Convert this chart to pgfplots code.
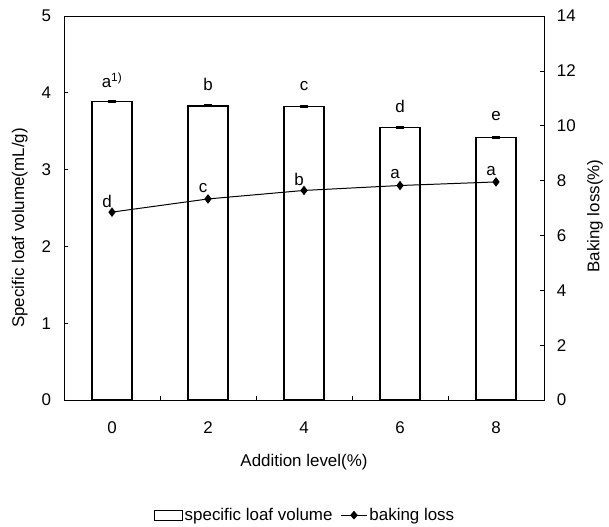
\documentclass[border=0pt]{standalone}
\usepackage{fontspec}
\setmainfont{Liberation Sans}
\usepackage{pgfplots}
\pgfplotsset{compat=1.18}
\usepackage{pgfplotstable}
\newcommand\aone{a\textsuperscript{1)}}
\pgfplotstableread{
x y err lab
0 3.89 0.01 \aone
1 3.83 0.01 b
2 3.82 0.01 c
3 3.55 0.01 d
4 3.42 0.01 e
}\barsdata
\pgfplotstableread{
x y lab
0 6.85 d
1 7.33 c
2 7.64 b
3 7.82 a
4 7.95 a
}\lossdata
\begin{document}
\fontsize{17}{20}\selectfont
\begin{tikzpicture}
\begin{axis}[
  name=ax,
  width=480bp, height=384bp, scale only axis,
  xmin=-0.5, xmax=4.5, ymin=0, ymax=5,
  xtick={0,1,2,3,4}, xticklabels={0,2,4,6,8},
  minor xtick={0.5,1.5,2.5,3.5},
  major x tick style={draw=none},
  ytick={0,1,2,3,4,5},
  ytick pos=left, xtick pos=bottom,
  tick align=inside,
  major tick length=4bp, minor tick length=4bp,
  axis line style={line width=0.9pt},
  every tick/.style={black, line width=0.7pt},
  /pgf/number format/assume math mode=true,
  yticklabel style={xshift=-7bp},
  xticklabel style={yshift=-16bp},
  xlabel={Addition level(\%)},
  ylabel={Specific loaf volume(mL/g)},
  xlabel style={at={(axis description cs:0.5,-0.161)}, anchor=center},
  ylabel style={at={(axis description cs:-0.092,0.448)}, anchor=center, rotate=0},
  legend columns=2,
  legend style={draw=none, at={(axis description cs:0.502,-0.30)}, anchor=center,
    /tikz/every even column/.append style={column sep=6bp}},
  clip=false,
]
\addplot[ybar, bar width=0.42, draw=black, fill=white, line width=1.4pt,
  legend image code/.code={\draw[draw=black, fill=white, line width=1pt] (0bp,-5bp) rectangle (28bp,5bp);},
  error bars/.cd, y dir=both, y explicit,
  error bar style={line width=1.5pt},
  error mark options={rotate=90, mark size=4bp, line width=1.5pt}]
  table[x=x, y=y, y error=err]{\barsdata};
\addlegendentry{specific loaf volume}
\addplot[draw=none, nodes near coords, point meta=explicit symbolic,
  every node near coord/.append style={anchor=center, yshift=21bp},
  forget plot]
  table[x=x, y=y, meta=lab]{\barsdata};
\addlegendimage{legend image code/.code={\draw[black, line width=1pt] (0bp,0bp) -- (26bp,0bp); \fill[black] (13bp,4bp) -- (16.5bp,0bp) -- (13bp,-4bp) -- (9.5bp,0bp) -- cycle;}}
\addlegendentry{baking loss}
\end{axis}
\begin{axis}[
  width=480bp, height=384bp, scale only axis,
  xmin=-0.5, xmax=4.5, ymin=0, ymax=14,
  axis y line*=right, axis x line=none,
  ytick={0,2,4,6,8,10,12,14},
  tick align=inside, major tick length=4bp,
  axis line style={line width=0.9pt},
  every tick/.style={black, line width=0.7pt},
  /pgf/number format/assume math mode=true,
  yticklabel style={xshift=7bp},
  ylabel={Baking loss(\%)},
  ylabel style={at={(axis description cs:1.106,0.479)}, anchor=center, rotate=0},
  clip=false,
]
\addplot[black, line width=1pt, mark=diamond*, mark size=4bp,
  nodes near coords, point meta=explicit symbolic,
  every node near coord/.append style={anchor=center, xshift=-5bp, yshift=11bp}]
  table[x=x, y=y, meta=lab]{\lossdata};
\end{axis}
\path ([shift={(-64bp,-126bp)}]ax.south west) rectangle ([shift={(545bp,400bp)}]ax.south west);
\end{tikzpicture}
\end{document}
